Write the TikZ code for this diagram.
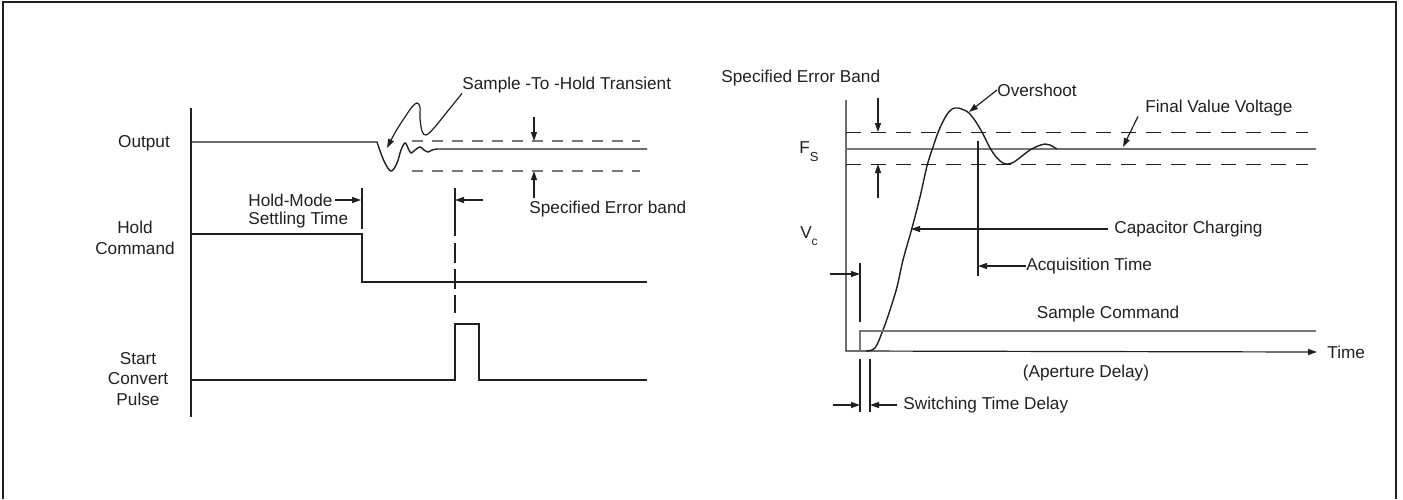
\documentclass[tikz,border=0pt]{standalone}
\usepackage{fontspec}
\setmainfont{Liberation Sans}
\usetikzlibrary{arrows.meta,positioning}
\definecolor{inkgray}{RGB}{35,31,32}
\definecolor{linegray}{RGB}{120,120,120}

\begin{document}
\begin{tikzpicture}[
    x=0.5pt,y=-0.5pt,
    font=\fontsize{8.6}{10.2}\selectfont,
    sig/.style={draw=inkgray,line width=0.7pt},
    thinsig/.style={draw=linegray,line width=0.65pt},
    bandL/.style={draw=linegray,line width=0.6pt,dash pattern=on 5.5pt off 4.5pt},
    bandR/.style={draw=inkgray,line width=0.5pt,dash pattern=on 7.5pt off 5pt},
    arr/.style={-{Triangle[length=4.5pt,width=3pt]},draw=inkgray,line width=0.6pt},
    lbl/.style={inner sep=0pt,text=inkgray},
    lblw/.style={lbl,anchor=west}
  ]
    \useasboundingbox (0,0) rectangle (1403,499);
    \draw[inkgray,line width=1pt] (3,499) -- (3,2) -- (1396,2) -- (1396,499);

    % left: hold-mode timing
    \node[lbl] (out) at (144,143) {Output};
    \node[lbl,align=center] (hold) at (135,238) {Hold\\Command};
    \node[lbl,align=center] (conv) at (138,379) {Start\\Convert\\Pulse};
    \draw[sig] (191,108) -- (191,417);

    \draw[sig] (191,142) -- (377,142) -- plot[smooth,tension=0.6] coordinates {
      (377,142) (384,161) (391,171) (397,163) (401,150) (405,143) (408,148)
      (411,153) (415,150) (420,147) (424,150) (428,152) (432,150) (437,149)}
      -- (647,149);
    \draw[bandL] (412,141) -- (640,141);
    \draw[bandL] (412,171) -- (640,171);
    \draw[sig] (191,234) -- (362,234) -- (362,282) -- (647,282);
    \draw[sig] (191,380) -- (455,380) -- (455,324) -- (479,324) -- (479,380) -- (647,380);

    \node[lblw] (sth) at (462,85) {Sample -To -Hold Transient};
    \draw[arr] plot[smooth,tension=0.6] coordinates {
      (sth.south west) (447,112) (434,128) (426,135) (422,131) (420,118)
      (420,107) (417,103) (412,107) (405,117) (396,131) (387,148)};

    \coordinate (ebin) at (534,117);
    \coordinate (ebtop) at (534,141);
    \coordinate (ebbot) at (534,171);
    \node[lblw] (ebl) at (529,209) {Specified Error band};
    \draw[arr] (ebin) -- (ebtop);
    \draw[arr] ([yshift=1.5pt]ebl.north -| ebbot) -- (ebbot);

    \node[lblw] (hm1) at (248,200) {Hold-Mode};
    \node[lblw] (hm2) at (248,220) {Settling Time};
    \coordinate (hmtip) at (361,200);
    \draw[sig] (362,188) -- (362,229);
    \draw[arr] ([xshift=1pt]hm1.east) -- (hmtip);

    \coordinate (scin) at (483,200);
    \coordinate (sctip) at (455,200);
    \draw[sig] (455,188) -- (455,236);
    \draw[sig,dash pattern=on 10pt off 3pt] (455,243) -- (455,313);
    \draw[arr] (scin) -- (sctip);

    % right: acquisition
    \node[lblw] (time) at (1327,352) {Time};
    \draw[arr] (846,100) -- (846,351) -- ([xshift=-5pt]time.west);
    \draw[thinsig] (846,149) -- (1057,149);
    \draw[bandR] (846,132) -- (1308,132);
    \draw[bandR] (846,164) -- (1308,164);
    \draw[sig] plot[smooth,tension=0.55] coordinates {
      (866,351) (875,348) (883,330) (890,310) (897,287) (903,260) (912,228)
      (920,197) (927,166) (933,147) (939,130) (946,116) (952,109) (958,108)
      (964,110) (969,113) (976,122) (983,134) (990,148) (997,158) (1003,163)
      (1008,164) (1014,162) (1022,156) (1030,150) (1038,146) (1045,144)
      (1050,145) (1057,149)} -- (1316,149);

    \node[lbl] (fs) at (809,152) {F\raisebox{-4pt}{\fontsize{6.5}{7}\selectfont S}};
    \node[lbl] (vc) at (809,236) {V\raisebox{-3.5pt}{\fontsize{6}{7}\selectfont c}};

    \node[lblw] (seb) at (721,78) {Specified Error Band};
    \coordinate (rbin) at (878,98);
    \coordinate (rbtop) at (878,132);
    \coordinate (rbout) at (878,198);
    \coordinate (rbbot) at (878,164);
    \draw[arr] (rbin) -- (rbtop);
    \draw[arr] (rbout) -- (rbbot);

    \node[lblw] (ovs) at (997,90) {Overshoot};
    \coordinate (ovtip) at (969,112);
    \draw[arr] (ovs.west) -- (ovtip);

    \node[lblw] (fvv) at (1145,108) {Final Value Voltage};
    \coordinate (fvtip) at (1123,147);
    \draw[arr] ([xshift=-3.5pt]fvv.south west) -- (fvtip);

    \node[lblw] (cap) at (1114,229) {Capacitor Charging};
    \coordinate (captip) at (911,229);
    \draw[arr] ([xshift=-3pt]cap.west) -- (captip);

    \node[lblw] (acq) at (1026,266) {Acquisition Time};
    \coordinate (acqtip) at (978,266);
    \draw[sig] (978,141) -- (978,276);
    \draw[arr] (acq.west) -- (acqtip);

    \node[lbl] (scmd) at (1108,314) {Sample Command};
    \draw[thinsig] (860,351) -- (860,331) -- (1316,331);

    \coordinate (apin) at (830,274);
    \coordinate (aptip) at (860,274);
    \draw[sig] (860,263) -- (860,322);
    \draw[arr] (apin) -- (aptip);
    \node[lbl] (apd) at (1086,373) {(Aperture Delay)};

    \node[lblw] (swt) at (903,405) {Switching Time Delay};
    \coordinate (swin) at (833,405);
    \coordinate (swl) at (860,405);
    \coordinate (swr) at (870,405);
    \draw[sig] (860,359) -- (860,412);
    \draw[sig] (870,359) -- (870,412);
    \draw[arr] (swin) -- (swl);
    \draw[arr] ([xshift=-3pt]swt.west) -- (swr);
  \end{tikzpicture}
\end{document}
